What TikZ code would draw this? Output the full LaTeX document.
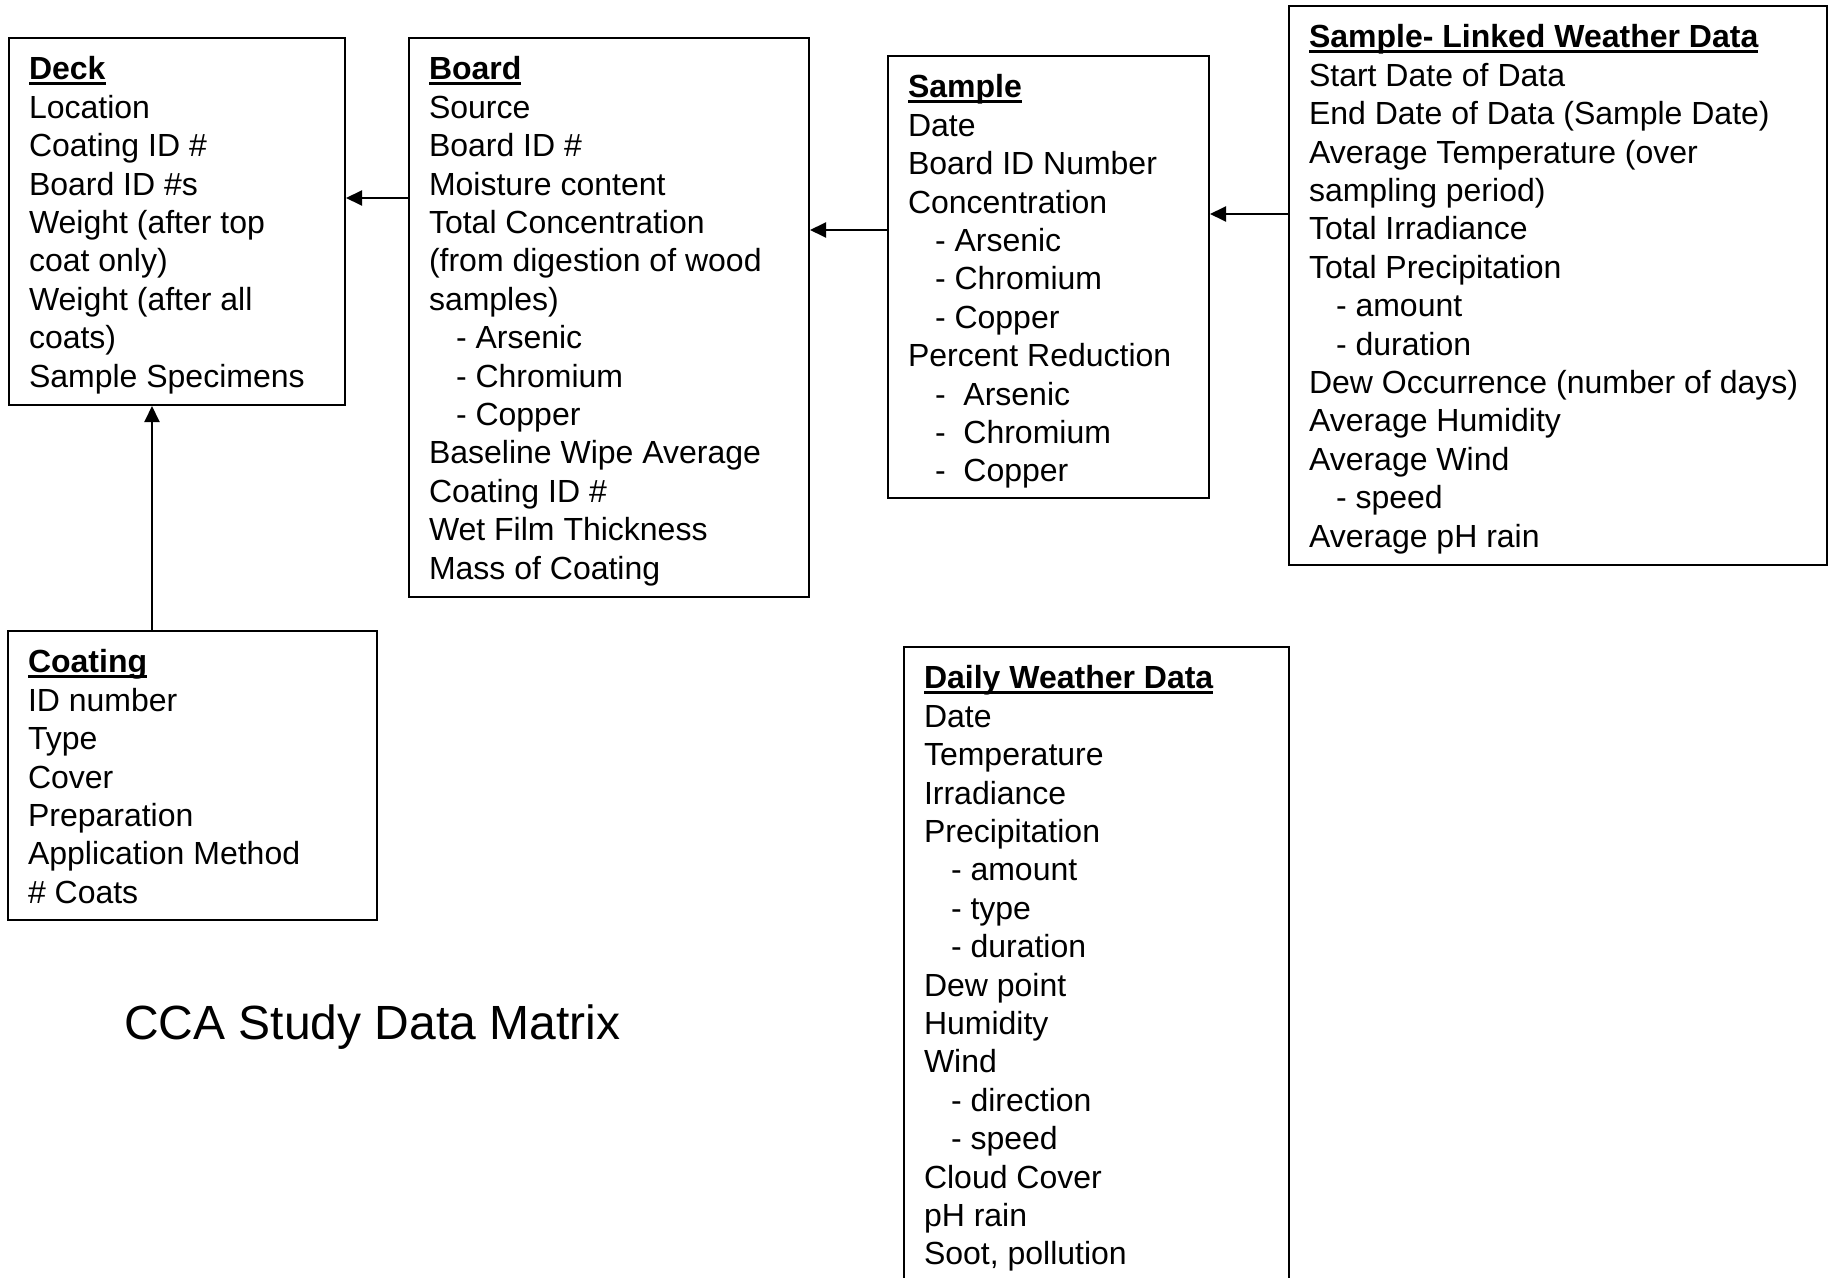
\documentclass[tikz,border=0pt]{standalone}
\usepackage{fontspec}
\setmainfont{Liberation Sans}
\usetikzlibrary{arrows.meta,positioning}

\newcommand{\entityhead}[1]{\setbox0\hbox{\bfseries #1}\rlap{\rule[-2.6pt]{\wd0}{1.3pt}}\box0}
\newcommand{\subattr}{\hspace*{13.5pt}}
\newcommand{\entitybox}[3]{\parbox[t][#2][t]{#1}{\raggedright\strut #3}}

\begin{document}
\begin{tikzpicture}
	[x=0.5pt,y=-0.5pt,>={Triangle[length=8pt,width=7.5pt]},
		entity/.style={draw,line width=1pt,anchor=north west,inner xsep=10pt,inner ysep=7.5pt,
			font=\fontsize{16}{19.2}\selectfont},
		link/.style={->,line width=1pt}]

	\useasboundingbox (0,0) rectangle (1830,1278);

	\node[entity] (deck) at (8,37) {\entitybox{148pt}{168.5pt}{\entityhead{Deck}\\
		Location\\ Coating ID \#\\ Board ID \#s\\ Weight (after top\\ coat only)\\
		Weight (after all\\ coats)\\ Sample Specimens}};
	\node[entity] (board) at (408,37) {\entitybox{180pt}{264.5pt}{\entityhead{Board}\\
		Source\\ Board ID \#\\ Moisture content\\ Total Concentration\\
		(from digestion of wood\\ samples)\\
		\subattr- Arsenic\\ \subattr- Chromium\\ \subattr- Copper\\
		Baseline Wipe Average\\ Coating ID \#\\ Wet Film Thickness\\ Mass of Coating}};
	\node[entity] (sample) at (887,55) {\entitybox{140.5pt}{206pt}{\entityhead{Sample}\\
		Date\\ Board ID Number\\ Concentration\\
		\subattr- Arsenic\\ \subattr- Chromium\\ \subattr- Copper\\
		Percent Reduction\\
		\subattr- \ Arsenic\\ \subattr- \ Chromium\\ \subattr- \ Copper}};
	\node[entity] (linked) at (1288,5) {\entitybox{249pt}{264.5pt}{\entityhead{Sample- Linked Weather Data}\\
		Start Date of Data\\ End Date of Data (Sample Date)\\ Average Temperature (over\\
		sampling period)\\ Total Irradiance\\ Total Precipitation\\
		\subattr- amount\\ \subattr- duration\\
		Dew Occurrence (number of days)\\ Average Humidity\\ Average Wind\\
		\subattr- speed\\ Average pH rain}};
	\node[entity] (coating) at (7,630) {\entitybox{164.5pt}{129.5pt}{\entityhead{Coating}\\
		ID number\\ Type\\ Cover\\ Preparation\\ Application Method\\ \# Coats}};
	\node[entity] (daily) at (903,646) {\entitybox{172.5pt}{335pt}{\entityhead{Daily Weather Data}\\
		Date\\ Temperature\\ Irradiance\\ Precipitation\\
		\subattr- amount\\ \subattr- type\\ \subattr- duration\\
		Dew point\\ Humidity\\ Wind\\
		\subattr- direction\\ \subattr- speed\\
		Cloud Cover\\ pH rain\\ Soot, pollution}};

	\node[anchor=base west,font=\fontsize{24}{28}\selectfont] (title) at (117,1039) {CCA Study Data Matrix};

	% links between the tables
	\coordinate (bd) at ([yshift=-80.5pt]board.north west);
	\coordinate (sb) at ([yshift=-87.5pt]sample.north west);
	\coordinate (ls) at ([yshift=-104.5pt]linked.north west);
	\coordinate (cd) at ([xshift=72.5pt]coating.north west);
	\draw[link] (bd) -- (bd -| deck.east);
	\draw[link] (sb) -- (sb -| board.east);
	\draw[link] (ls) -- (ls -| sample.east);
	\draw[link] (cd) -- (cd |- deck.south);

\end{tikzpicture}
\end{document}
